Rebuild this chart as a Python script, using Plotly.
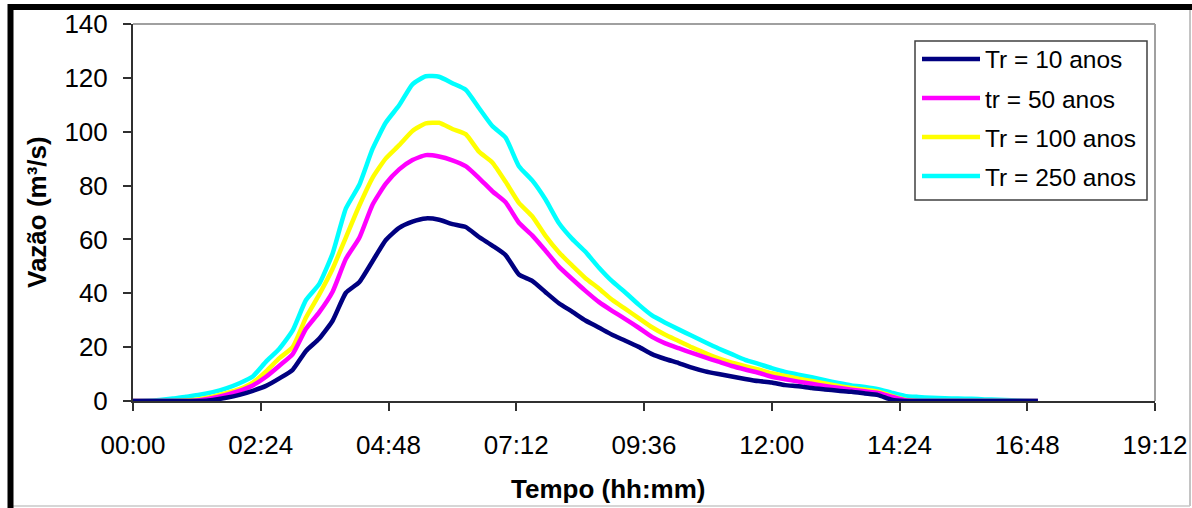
import plotly.graph_objects as go

# tempo em minutos desde 00:00
tempo_min = [0, 15, 30, 45, 60, 75, 90, 105, 120, 135, 150, 165, 180, 195, 210,
             225, 240, 255, 270, 285, 300, 315, 330, 345, 360, 375, 390, 405,
             420, 435, 450, 465, 480, 495, 510, 525, 540, 555, 570, 585, 600,
             615, 630, 645, 660, 675, 690, 705, 720, 735, 750, 765, 780, 795,
             810, 825, 840, 855, 870, 885, 900, 915, 930, 945, 960, 975, 990,
             1005, 1020]

q_tr10 = [0, 0, 0, 0, 0, 0, 0.4, 1.2, 2.3, 3.8, 5.6, 8.4, 11.6, 18.6, 23.2,
          29.8, 40.2, 44.1, 51.9, 59.8, 64.3, 66.6, 67.8, 67.3, 65.7, 64.6, 60.9, 57.7,
          54.2, 47.0, 44.6, 40.4, 36.3, 33.2, 29.9, 27.3, 24.6, 22.4, 20.1, 17.4, 15.6,
          14.1, 12.4, 11.0, 10.0, 9.1, 8.2, 7.4, 6.9, 5.9, 5.5, 4.8, 4.3, 3.8,
          3.4, 2.8, 2.2, 0.5, 0, 0, 0, 0, 0, 0, 0, 0, 0,
          0, 0]

q_tr50 = [0, 0, 0, 0, 0, 0.3, 1.1, 2.3, 3.8, 5.8, 9.0, 13.1, 17.4, 26.8, 33.0,
          40.6, 52.8, 60.5, 72.9, 80.7, 86.0, 89.5, 91.3, 90.8, 89.4, 87.2, 82.8, 77.9,
          73.8, 66.2, 61.5, 55.8, 49.9, 45.3, 40.9, 36.8, 33.5, 30.4, 27.2, 23.8, 21.4,
          19.6, 17.9, 16.2, 14.6, 13.0, 11.7, 10.5, 9.0, 8.1, 7.2, 6.4, 5.6, 4.9,
          4.2, 3.6, 3.0, 1.6, 0.3, 0, 0, 0, 0, 0, 0, 0, 0,
          0, 0]

q_tr100 = [0, 0, 0, 0, 0.2, 0.7, 1.6, 2.9, 4.4, 6.8, 11.0, 15.9, 20.0, 31.0, 39.6,
           49.1, 60.8, 72.5, 82.9, 90.1, 95.0, 100.3, 103.1, 103.3, 101.0, 99.1, 92.6, 88.6,
           81.4, 73.6, 68.6, 61.3, 55.2, 50.3, 45.6, 41.8, 37.6, 34.2, 30.8, 27.4, 24.6,
           22.3, 19.9, 17.8, 15.8, 14.2, 12.9, 11.7, 10.3, 9.3, 8.3, 7.4, 6.5, 5.6,
           4.8, 4.2, 3.5, 1.9, 0.5, 0, 0, 0, 0, 0, 0, 0, 0,
           0, 0]

q_tr250 = [0, 0.1, 0.4, 0.9, 1.6, 2.3, 3.3, 4.7, 6.6, 9.1, 14.6, 19.4, 26.2, 37.5, 43.5,
           54.8, 71.5, 80.2, 93.6, 103.4, 109.8, 117.6, 120.6, 120.4, 118.0, 115.6, 108.8, 102.1,
           97.8, 87.2, 81.9, 74.8, 66.1, 60.2, 55.4, 49.6, 44.5, 40.3, 35.8, 31.8, 29.1,
           26.6, 24.2, 21.8, 19.5, 17.4, 15.3, 13.8, 12.2, 10.8, 9.8, 8.8, 7.7, 6.7,
           5.8, 5.2, 4.4, 3.1, 1.9, 1.5, 1.2, 1.0, 0.9, 0.8, 0.6, 0.5, 0.3,
           0.1, 0]

nomes = ["Tr = 10 anos", "tr = 50 anos", "Tr = 100 anos", "Tr = 250 anos"]
cores = ["#000080", "#FF00FF", "#FFFF00", "#00FFFF"]
series = [q_tr10, q_tr50, q_tr100, q_tr250]

x_ticks = ["00:00", "02:24", "04:48", "07:12", "09:36", "12:00", "14:24", "16:48", "19:12"]
y_ticks = [0, 20, 40, 60, 80, 100, 120, 140]

W, H = 1192, 508
ML, MR, MT, MB = 133, 37, 24, 107
PW, PH = W - ML - MR, H - MT - MB


def px(x):
    return (x - ML) / PW


def py(y):
    return (H - MB - y) / PH


fig = go.Figure()

# desenha a maior vazão primeiro, como no original
for nome, cor, q in reversed(list(zip(nomes, cores, series))):
    fig.add_trace(go.Scatter(
        x=tempo_min, y=q, mode='lines', name=nome,
        line=dict(color=cor, width=4.5, shape='spline', smoothing=0.5),
        showlegend=False
    ))

shapes = []
# moldura da área do gráfico (topo e direita cinza)
shapes.append(dict(type='line', xref='paper', yref='paper', x0=0, x1=1, y0=1, y1=1,
                   line=dict(color='#a0a0a0', width=2)))
shapes.append(dict(type='line', xref='paper', yref='paper', x0=1, x1=1, y0=0, y1=1,
                   line=dict(color='#a0a0a0', width=2)))
# moldura externa
shapes.append(dict(type='line', xref='paper', yref='paper', x0=px(1190), x1=px(1190),
                   y0=py(7), y1=py(506), line=dict(color='#b0b0b0', width=1.5)))
shapes.append(dict(type='line', xref='paper', yref='paper', x0=px(10.5), x1=px(1190),
                   y0=py(506), y1=py(506), line=dict(color='#c8c8c8', width=1.5)))
shapes.append(dict(type='line', xref='paper', yref='paper', x0=px(10.5), x1=px(10.5),
                   y0=py(4), y1=py(508), line=dict(color='black', width=6)))
shapes.append(dict(type='line', xref='paper', yref='paper', x0=px(8), x1=px(1192),
                   y0=py(7), y1=py(7), line=dict(color='black', width=6)))

# legenda manual (linha de amostra longa como no original)
shapes.append(dict(type='rect', xref='paper', yref='paper', x0=px(915), x1=px(1147),
                   y0=py(41), y1=py(200), line=dict(color='#404040', width=1.5),
                   fillcolor='white'))
annotations = []
for i, (nome, cor) in enumerate(zip(nomes, cores)):
    yc = 59 + i * 39
    shapes.append(dict(type='line', xref='paper', yref='paper', x0=px(922), x1=px(980),
                       y0=py(yc), y1=py(yc), line=dict(color=cor, width=4.5)))
    annotations.append(dict(xref='paper', yref='paper', x=px(983), y=py(yc + 1),
                            xanchor='left', yanchor='middle', text=nome, showarrow=False,
                            font=dict(size=24.5, color='black')))

annotations.append(dict(xref='paper', yref='paper', x=px(608), y=py(489),
                        xanchor='center', yanchor='middle', text='<b>Tempo (hh:mm)</b>',
                        showarrow=False, font=dict(size=26, color='black')))
annotations.append(dict(xref='paper', yref='paper', x=px(37), y=py(212),
                        xanchor='center', yanchor='middle', text='<b>Vazão (m³/s)</b>',
                        textangle=-90, showarrow=False, font=dict(size=26, color='black')))

fig.update_layout(
    width=W, height=H,
    margin=dict(l=ML, r=MR, t=MT, b=MB, autoexpand=False),
    paper_bgcolor='white', plot_bgcolor='white',
    font=dict(family='Liberation Sans, Arial, sans-serif', size=26, color='black'),
    shapes=shapes,
    annotations=annotations,
    showlegend=False,
    xaxis=dict(
        range=[0, 1152],
        tickvals=[int(t[:2]) * 60 + int(t[3:]) for t in x_ticks],
        ticktext=x_ticks,
        ticks='outside', ticklen=8, tickwidth=1.5, tickcolor='#303030',
        showline=True, linecolor='#303030', linewidth=2,
        showgrid=False, zeroline=False, automargin=False,
        ticklabelstandoff=12,
    ),
    yaxis=dict(
        range=[0, 140],
        tickvals=y_ticks,
        ticks='outside', ticklen=8, tickwidth=1.5, tickcolor='#303030',
        showline=True, linecolor='#303030', linewidth=2,
        showgrid=False, zeroline=False, automargin=False,
        ticklabelstandoff=10,
    ),
)

# a página tem margem de 8px por padrão; tirar para a figura ocupar a janela
fig.write_html("out.html", config={'displayModeBar': False},
               post_script="document.body.style.margin='0';")
